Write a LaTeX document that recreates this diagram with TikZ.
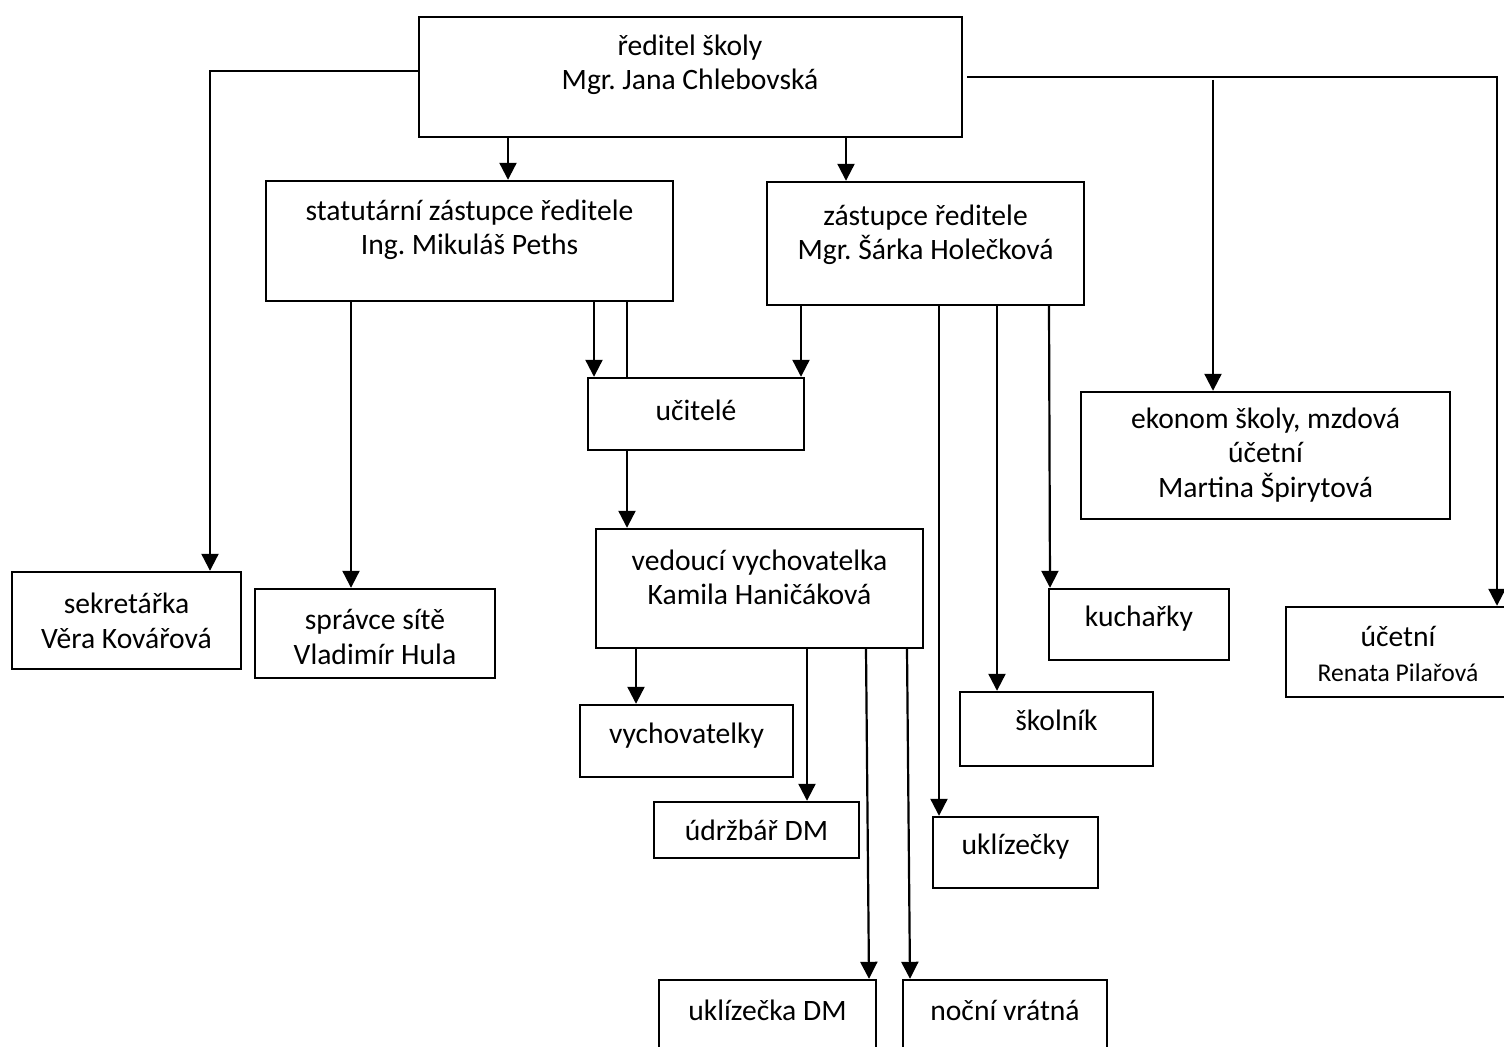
\documentclass[tikz,border=0pt]{standalone}
\usepackage{fontspec}
\setmainfont{Carlito}
\usetikzlibrary{fit,arrows.meta}
\frenchspacing
\begin{document}
\begin{tikzpicture}[x=0.5pt,y=-0.5pt,
  box/.style={draw, line width=1.2pt, inner sep=0pt},
  txt/.style={align=center, inner sep=0pt, font=\fontsize{14.8}{17.2}\selectfont\frenchspacing},
  conn/.style={line width=1.1pt},
  arr/.style={line width=1.1pt, -{Triangle[width=8.5pt,length=8.5pt]}}]
\clip (0,0) rectangle (1504,1047);
\useasboundingbox (0,0) rectangle (1504,1047);
\fill[white] (0,0) rectangle (1504,1047);

% boxes
\node[box, fit={(419,17) (962,137)}] (dir) {};
\node[box, fit={(266,181) (673,301)}] (stat) {};
\node[box, fit={(767,182) (1084,305)}] (zast) {};
\node[box, fit={(588,378) (804,450)}] (ucit) {};
\node[box, fit={(596,529) (923,648)}] (ved) {};
\node[box, fit={(1081,392) (1450,519)}] (ekon) {};
\node[box, fit={(12,572) (241,669)}] (sekr) {};
\node[box, fit={(255,589) (495,678)}] (sprav) {};
\node[box, fit={(580,705) (793,777)}] (vych) {};
\node[box, fit={(654,802) (859,858)}] (udrz) {};
\node[box, fit={(659,980) (876,1080)}] (ukdm) {};
\node[box, fit={(903,980) (1107,1080)}] (nocni) {};
\node[box, fit={(1049,589) (1229,660)}] (kuch) {};
\node[box, fit={(960,692) (1153,766)}] (skol) {};
\node[box, fit={(933,817) (1098,888)}] (ukl) {};
\node[box, fit={(1286,607) (1512,697)}] (ucet) {};

% texts
\node[txt] (dirT) at (690,65) {ředitel školy\\Mgr. Jana Chlebovská};
\node[txt] (statT) at (469.5,230) {statutární zástupce ředitele\\Ing. Mikuláš Peths};
\node[txt] (zastT) at (925.5,235) {zástupce ředitele\\Mgr. Šárka Holečková};
\node[txt] (ucitT) at (696,410) {učitelé};
\node[txt] (vedT) at (759.5,577.5) {vedoucí vychovatelka\\Kamila Haničáková};
\node[txt] (ekonT) at (1265.5,455) {ekonom školy, mzdová\\účetní\\Martina Špirytová};
\node[txt] (sekrT) at (126.5,621) {sekretářka\\Věra Kovářová};
\node[txt] (spravT) at (375,637) {správce sítě\\Vladimír Hula};
\node[txt] (vychT) at (686.5,736) {vychovatelky};
\node[txt] (udrzT) at (756.5,830) {údržbář DM};
\node[txt] (ukdmT) at (767.5,1010) {uklízečka DM};
\node[txt] (nocniT) at (1005,1010) {noční vrátná};
\node[txt] (kuchT) at (1139,619) {kuchařky};
\node[txt] (skolT) at (1056.5,720) {školník};
\node[txt] (uklT) at (1015.5,847) {uklízečky};
\node[txt] (ucetT) at (1398,654) {účetní\\{\fontsize{12.8}{15}\selectfont Renata Pilařová}};

% connectors from director
\draw[arr] (dir.west |- 0,71) -- (210,71) -- (sekr.north -| 210,0);
\draw[arr] (dir.south -| 508,0) -- (stat.north -| 508,0);
\draw[arr] (dir.south -| 846,0) -- (zast.north -| 846,0);
\coordinate (rstart) at (967,77);
\draw[arr] (rstart) -- (1497,77) -- (ucet.north -| 1497,0);
\draw[arr] (1213,80) -- (ekon.north -| 1213,0);

% from statutarni
\draw[arr] (stat.south -| 351,0) -- (sprav.north -| 351,0);
\draw[arr] (stat.south -| 594,0) -- (ucit.north -| 594,0);
\draw[conn] (stat.south -| 627,0) -- (ucit.north -| 627,0);

% from zastupce
\draw[arr] (zast.south -| 801,0) -- (ucit.north -| 801,0);
\draw[arr] (zast.south -| 939,0) -- (ukl.north -| 939,0);
\draw[arr] (zast.south -| 997,0) -- (skol.north -| 997,0);
\draw[arr] (zast.south -| 1049,0) -- (kuch.north -| 1050,0);

% from ucitele
\draw[arr] (ucit.south -| 627,0) -- (ved.north -| 627,0);

% from vedouci
\draw[arr] (ved.south -| 636,0) -- (vych.north -| 636,0);
\draw[arr] (ved.south -| 807,0) -- (udrz.north -| 807,0);
\draw[arr] (ved.south -| 866,0) -- (ukdm.north -| 869,0);
\draw[arr] (ved.south -| 907,0) -- (nocni.north -| 910,0);
\end{tikzpicture}
\end{document}
